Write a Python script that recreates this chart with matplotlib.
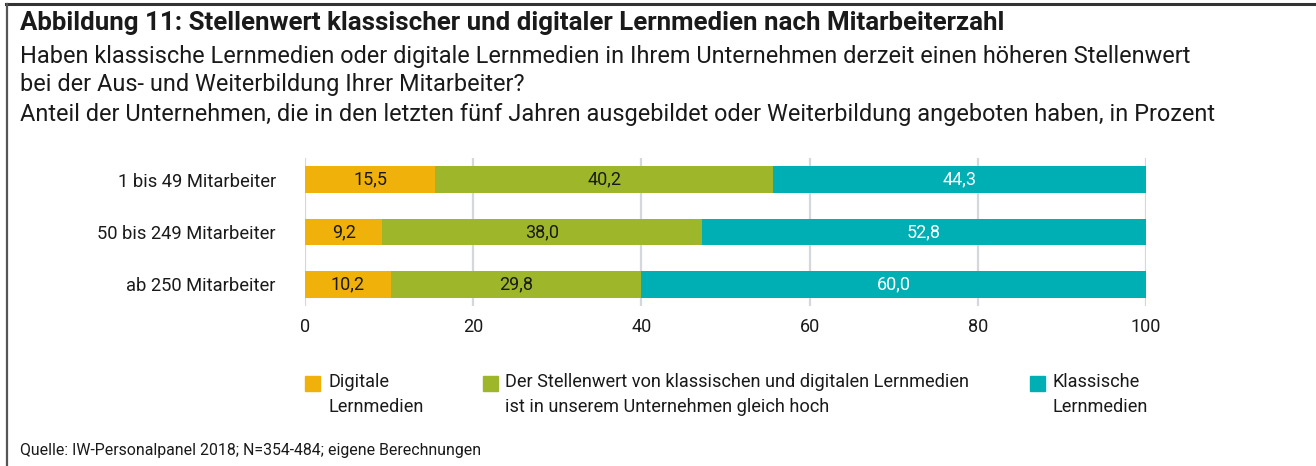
import matplotlib
matplotlib.use("Agg")
import matplotlib.pyplot as plt
from matplotlib.lines import Line2D
from matplotlib.patches import Rectangle

plt.rcParams["font.family"] = ["Roboto", "DejaVu Sans"]

# --------------------------------------------------------------------------- #
# Data
# --------------------------------------------------------------------------- #
categories = ["1 bis 49 Mitarbeiter", "50 bis 249 Mitarbeiter", "ab 250 Mitarbeiter"]
digital = [15.5, 9.2, 10.2]
gleich = [40.2, 38.0, 29.8]
klassisch = [44.3, 52.8, 60.0]
series_labels = [
    "Digitale\nLernmedien",
    "Der Stellenwert von klassischen und digitalen Lernmedien\nist in unserem Unternehmen gleich hoch",
    "Klassische\nLernmedien",
]
x_ticks = [0, 20, 40, 60, 80, 100]

colors = ["#F0B20A", "#9DB62A", "#00AFB4"]
text_colors = ["#1a1a1a", "#1a1a1a", "white"]

W, H = 1316, 466
fig = plt.figure(figsize=(W / 100, H / 100), dpi=100)


def fx(px):
    return px / W


def fy(py):
    return 1 - py / H


# frame lines (top and left)
fig.add_artist(Line2D([fx(6), 1], [fy(4), fy(4)], color="#333333", lw=2.2))
fig.add_artist(Line2D([fx(7), fx(7)], [fy(4), 0], color="#555555", lw=1.6))

# headings
fig.text(fx(20), fy(23), "Abbildung 11: Stellenwert klassischer und digitaler Lernmedien nach Mitarbeiterzahl",
         fontsize=18.6, fontweight="bold", va="center", color="#1a1a1a")
fig.text(fx(20), fy(57), "Haben klassische Lernmedien oder digitale Lernmedien in Ihrem Unternehmen derzeit einen höheren Stellenwert",
         fontsize=16.9, va="center", color="#1a1a1a")
fig.text(fx(20), fy(84), "bei der Aus- und Weiterbildung Ihrer Mitarbeiter?",
         fontsize=16.9, va="center", color="#1a1a1a")
fig.text(fx(20), fy(115), "Anteil der Unternehmen, die in den letzten fünf Jahren ausgebildet oder Weiterbildung angeboten haben, in Prozent",
         fontsize=16.9, va="center", color="#1a1a1a")
fig.text(fx(20), fy(451), "Quelle: IW-Personalpanel 2018; N=354-484; eigene Berechnungen",
         fontsize=11.4, va="center", color="#1a1a1a")

# --------------------------------------------------------------------------- #
# Bars
# --------------------------------------------------------------------------- #
ax = fig.add_axes([fx(305), fy(306), fx(1146) - fx(305), fy(158) - fy(306)])
ypos = list(range(len(categories)))
left = [0.0] * len(categories)
for vals, col, tcol in zip([digital, gleich, klassisch], colors, text_colors):
    bars = ax.barh(ypos, vals, left=left, height=0.51, color=col, zorder=2)
    ax.bar_label(bars, labels=[f"{v:.1f}".replace(".", ",") for v in vals],
                 label_type="center", color=tcol, fontsize=13)
    left = [l + v for l, v in zip(left, vals)]

ax.set_xlim(0, 100)
ax.set_ylim(2.41, -0.41)
ax.set_xticks(x_ticks)
ax.set_xticklabels([str(t) for t in x_ticks], fontsize=13, color="#1a1a1a")
ax.set_yticks(ypos)
ax.set_yticklabels(categories, fontsize=13.2, color="#1a1a1a")
ax.tick_params(axis="y", length=0, pad=21)
ax.tick_params(axis="x", length=0, pad=9)
ax.grid(axis="x", color="#D3D8DD", lw=1.6, zorder=0)
for s in ax.spines.values():
    s.set_visible(False)

# --------------------------------------------------------------------------- #
# Legend
# --------------------------------------------------------------------------- #
for (sq_x, tx_x), col, lab in zip([(305, 328), (483, 505), (1030, 1053)], colors, series_labels):
    fig.add_artist(Rectangle((fx(sq_x), fy(391)), fx(15), fy(376) - fy(391), color=col))
    fig.text(fx(tx_x), fy(373), lab, fontsize=13.1, va="top", linespacing=1.5, color="#1a1a1a")

fig.savefig("out.png", dpi=100)
